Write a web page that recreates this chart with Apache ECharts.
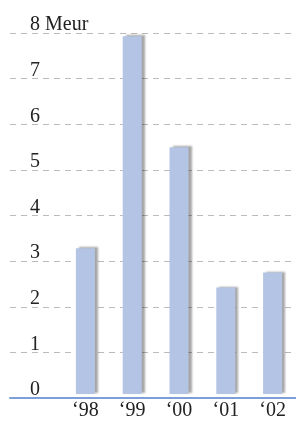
<!DOCTYPE html>
<html>
<head>
<meta charset="utf-8">
<script src="https://cdn.jsdelivr.net/npm/echarts@6/dist/echarts.min.js"></script>
<style>html,body{margin:0;padding:0;background:#fff}#c{width:296px;height:421px}</style>
</head>
<body>
<div id="c"></div>
<script>
const categories = ['\u201898', '\u201899', '\u201800', '\u201801', '\u201802'];
const values = [3.23, 7.93, 5.47, 2.36, 2.69];
const yTickLabels = ['0', '1', '2', '3', '4', '5', '6', '7', '8 Meur'];

const chart = echarts.init(document.getElementById('c'));
const font = 'Liberation Serif';
chart.setOption({
  animation: false,
  grid: [
    { left: 10, right: 0, top: 33, bottom: 23 },
    { left: 62, right: -1, top: 33, bottom: 23 }
  ],
  xAxis: [
    { gridIndex: 0, type: 'category', data: [], axisTick: { show: false }, axisLabel: { show: false },
      axisLine: { show: true, lineStyle: { color: '#7b9fd6', width: 2 } }, z: 5 },
    { gridIndex: 1, type: 'category', data: categories, axisTick: { show: false },
      axisLine: { show: false },
      axisLabel: { fontFamily: font, fontSize: 20, color: '#222', margin: 7 } }
  ],
  yAxis: [
    { gridIndex: 0, type: 'value', min: 0, max: 8, interval: 1,
      axisLine: { show: false }, axisTick: { show: false },
      splitLine: { show: true, lineStyle: { color: '#bbbbbb', type: [6, 5], width: 1 } },
      axisLabel: { inside: true, margin: 20, align: 'left', verticalAlign: 'bottom',
        fontFamily: font, fontSize: 20, color: '#222', padding: [0, 0, -2, 0],
        formatter: (v) => yTickLabels[Math.round(v)] } },
    { gridIndex: 1, type: 'value', min: 0, max: 8, interval: 1, show: false, splitLine: { show: false } }
  ],
  series: [{
    type: 'bar', xAxisIndex: 1, yAxisIndex: 1, data: values, barWidth: 19,
    itemStyle: { color: '#b3c4e5', shadowColor: 'rgba(0,0,0,0.35)', shadowOffsetX: 3, shadowOffsetY: -1, shadowBlur: 2 }
  }]
});
</script>
</body>
</html>
